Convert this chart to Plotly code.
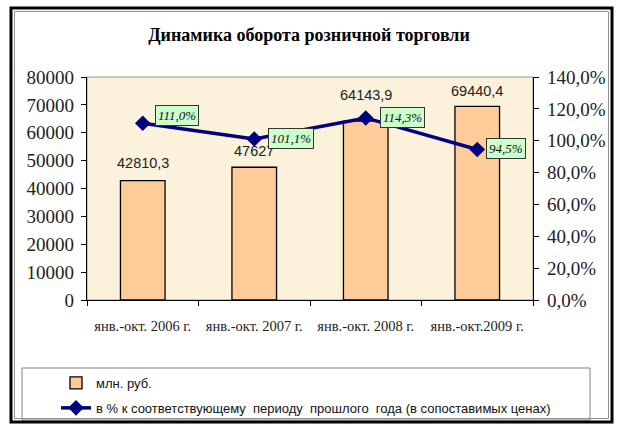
import plotly.graph_objects as go

categories = ["янв.-окт. 2006 г.", "янв.-окт. 2007 г.", "янв.-окт. 2008 г.", "янв.-окт.2009 г."]
turnover = [42810.3, 47627, 64143.9, 69440.4]
growth_pct = [111.0, 101.1, 114.3, 94.5]
bar_name = "млн. руб."
line_name = "в % к соответствующему  периоду  прошлого  года (в сопоставимых ценах)"
title_text = "Динамика оборота розничной торговли"

# style offsets for labels (pixels)
bar_label_shift = [8, 6, 16, 5]
pct_label_dx = [12, 14, 14, 9]
pct_label_dy = [8, 0, 0, 1]

def fmt_num(v):
    s = ("%.1f" % v).rstrip("0").rstrip(".") if v != int(v) else str(int(v))
    return s.replace(".", ",")

def fmt_pct(v):
    return ("%.1f%%" % v).replace(".", ",")

fig = go.Figure()
fig.add_trace(go.Bar(
    x=categories, y=turnover, name=bar_name,
    marker=dict(color="#ffcc99", line=dict(color="#000000", width=1.3)),
    legendgroup="a", yaxis="y",
))
fig.add_trace(go.Scatter(
    x=categories, y=growth_pct, name=line_name, yaxis="y2",
    mode="lines+markers",
    line=dict(color="#000080", width=3.5),
    marker=dict(symbol="diamond", size=12, color="#000080"),
    legendgroup="b",
))

annotations = []
for c, v, s in zip(categories, turnover, bar_label_shift):
    annotations.append(dict(
        x=c, y=v, xref="x", yref="y", text=fmt_num(v), showarrow=False,
        yanchor="bottom", yshift=s,
        font=dict(family="Liberation Sans, Arial, sans-serif", size=14.5, color="#222222"),
    ))
for c, v, dx, dy in zip(categories, growth_pct, pct_label_dx, pct_label_dy):
    annotations.append(dict(
        x=c, y=v, xref="x", yref="y2", text="<i>" + fmt_pct(v) + "</i>", showarrow=False,
        xanchor="left", yanchor="middle", xshift=dx, yshift=dy,
        bgcolor="#ccffcc", bordercolor="#333333", borderwidth=1, borderpad=2,
        font=dict(family="Liberation Serif, Times New Roman, serif", size=13, color="#111111"),
    ))

W, H = 446.0, 223.0
L, T = 87.0, 77.0
def px(x):
    return (x - L) / W
def py(y):
    return (T + H - y) / H

shapes = [
    # plot area border
    dict(type="rect", xref="paper", yref="paper", x0=0, x1=1, y0=0, y1=1,
         line=dict(color="#909090", width=1), layer="below"),
    # legend box
    dict(type="rect", xref="paper", yref="paper", x0=px(22), x1=px(590), y0=py(420), y1=py(368),
         line=dict(color="#808080", width=1)),
    # outer frame
    dict(type="rect", xref="paper", yref="paper", x0=px(11), x1=px(612), y0=py(422), y1=py(8),
         line=dict(color="#000000", width=3)),
    dict(type="rect", xref="paper", yref="paper", x0=px(14.5), x1=px(608.5), y0=py(418.5), y1=py(11.5),
         line=dict(color="#909090", width=1)),
]

tick_font = dict(family="Liberation Serif, Times New Roman, serif", size=19, color="#222222")

fig.update_layout(
    width=618, height=425,
    margin=dict(l=87, r=85, t=77, b=125, autoexpand=False),
    paper_bgcolor="#ffffff",
    plot_bgcolor="#fcf1da",
    title=dict(text="<b>" + title_text + "</b>", x=0.5, xanchor="center", y=1 - 35 / 425, yanchor="middle",
               font=dict(family="Liberation Serif, Times New Roman, serif", size=18, color="#000000")),
    bargap=0.6,
    showlegend=True,
    legend=dict(xref="container", yref="container", x=56 / 618, y=1 - 368 / 425,
                xanchor="left", yanchor="top", orientation="v",
                bgcolor="rgba(0,0,0,0)", tracegroupgap=5,
                font=dict(family="Liberation Sans, Arial, sans-serif", size=13, color="#111111")),
    xaxis=dict(
        type="category", showline=True, linecolor="#000000", linewidth=1.2,
        ticks="outside", tickson="boundaries", ticklen=5, tickcolor="#000000",
        tickfont=dict(family="Liberation Serif, Times New Roman, serif", size=14.5, color="#222222"),
        showgrid=False, automargin=False, ticklabelstandoff=12,
    ),
    yaxis=dict(
        range=[0, 80000], dtick=10000, showline=True, linecolor="#000000", linewidth=1.2,
        ticks="outside", ticklen=5, tickcolor="#000000", showgrid=False, zeroline=False,
        tickfont=tick_font, tickformat="d", ticklabelstandoff=3, automargin=False,
    ),
    yaxis2=dict(
        range=[0, 140], dtick=20, overlaying="y", side="right", showline=True,
        linecolor="#000000", linewidth=1.2, ticks="outside", ticklen=5, tickcolor="#000000",
        showgrid=False, zeroline=False, tickfont=tick_font, ticklabelstandoff=4, automargin=False,
        tickvals=[0, 20, 40, 60, 80, 100, 120, 140],
        ticktext=[fmt_pct(v) for v in [0, 20, 40, 60, 80, 100, 120, 140]],
    ),
    annotations=annotations,
    shapes=shapes,
)

fig.write_html("out.html", config={"displayModeBar": False},
               post_script="document.body.style.margin='0px';document.body.style.overflow='hidden';")
